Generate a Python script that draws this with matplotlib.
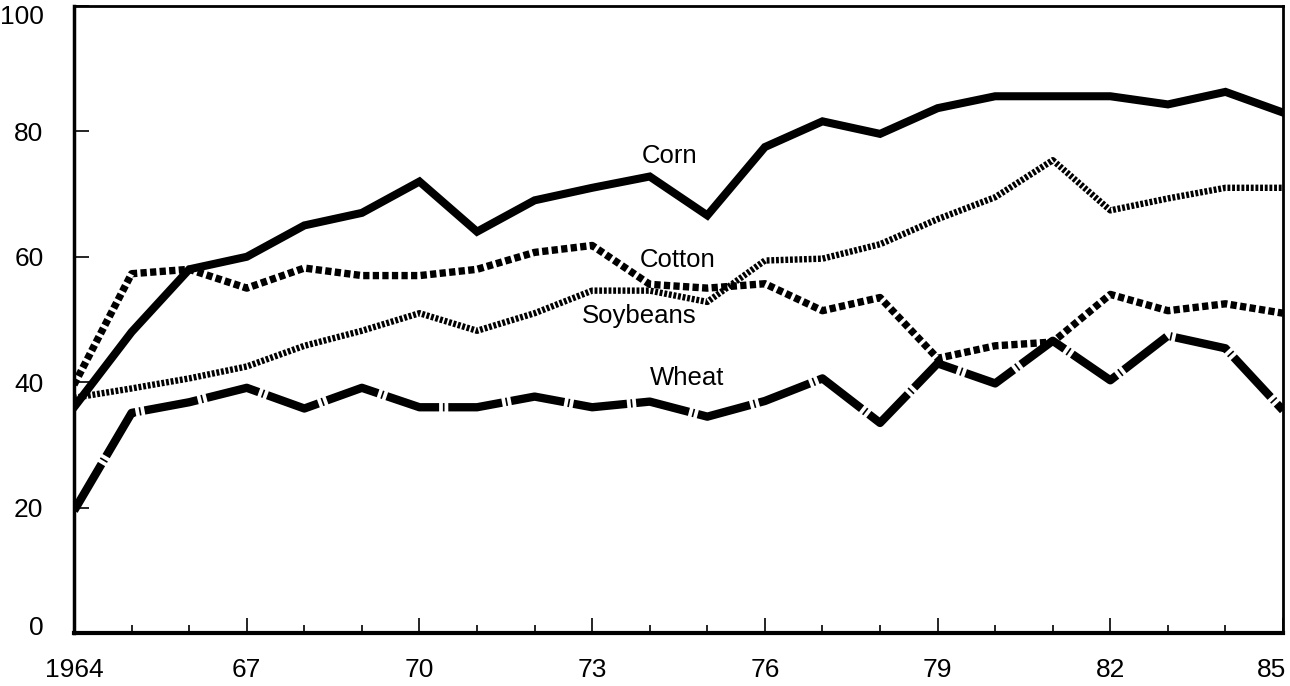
import matplotlib.pyplot as plt
from matplotlib.transforms import ScaledTranslation

years = list(range(1964, 1986))

corn = [36, 48, 58, 60, 65, 67, 72, 64, 69, 71, 72.8, 66.6, 77.5, 81.6, 79.6,
        83.7, 85.6, 85.6, 85.6, 84.3, 86.3, 83]
cotton = [39.6, 57.3, 58, 55, 58.2, 57, 57, 58, 60.7, 61.8, 55.6, 55, 55.7, 51.4,
          53.5, 43.8, 45.8, 46.4, 54, 51.4, 52.5, 51]
soybeans = [37.5, 39, 40.6, 42.5, 45.8, 48.2, 51, 48.2, 51, 54.6, 54.6, 52.8, 59.4,
            59.7, 62, 66, 69.5, 75.4, 67.4, 69.3, 71, 71]
wheat = [19.5, 35.1, 36.8, 39.1, 35.8, 39.1, 36, 36, 37.7, 36, 36.9, 34.5, 37,
         40.6, 33.5, 43, 39.8, 46.6, 40.3, 47.4, 45.4, 35.5]

labels = {"Corn": (1973.86, 74.9), "Cotton": (1973.83, 58.3),
          "Soybeans": (1972.82, 49.4), "Wheat": (1974.0, 39.5)}

plt.rcParams['font.family'] = ['Liberation Sans', 'DejaVu Sans']

fig = plt.figure(figsize=(12.9, 6.86), dpi=100)
ax = fig.add_axes([0.0574, 0.0773, 0.9372, 0.914])

ax.plot(years, corn, color='black', lw=5.8, solid_joinstyle='miter', zorder=4)
ax.plot(years, cotton, color='black', lw=5.3, linestyle=(0, (0.85, 0.45)), zorder=3)
ax.plot(years, soybeans, color='black', lw=4.6, linestyle=(0, (0.45, 0.28)), zorder=2)
ax.plot(years, wheat, color='black', lw=6, linestyle=(0, (6.5, 0.45, 0.2, 0.45)), zorder=3)

for name, (x, y) in labels.items():
    ax.text(x, y, name, fontsize=18.5, ha='left', va='baseline')

ax.set_xlim(1964, 1985)
ax.set_ylim(0, 100)
ax.set_xticks(range(1964, 1986, 3))
ax.set_xticklabels(['1964', '67', '70', '73', '76', '79', '82', '85'])
ax.set_xticks(range(1964, 1986), minor=True)
ax.set_yticks(range(0, 101, 20))
ax.tick_params(axis='both', which='major', direction='in', length=11, width=1.2,
               labelsize=19, pad=18)
ax.tick_params(axis='y', pad=22)
ax.tick_params(axis='x', which='minor', direction='in', length=6, width=1.2)
ax.tick_params(top=False, right=False)

# keep the edge labels inside the figure, as in the print
fig.canvas.draw()
ax.get_xticklabels()[-1].set_transform(
    ax.get_xticklabels()[-1].get_transform() + ScaledTranslation(-0.12, 0, fig.dpi_scale_trans))
ax.get_yticklabels()[-1].set_transform(
    ax.get_yticklabels()[-1].get_transform() + ScaledTranslation(0, -0.09, fig.dpi_scale_trans))
ax.get_yticklabels()[0].set_transform(
    ax.get_yticklabels()[0].get_transform() + ScaledTranslation(0, 0.07, fig.dpi_scale_trans))

for side, w in [('left', 2.5), ('bottom', 3), ('top', 2), ('right', 2)]:
    ax.spines[side].set_linewidth(w)

fig.savefig('out.png', dpi=100)
